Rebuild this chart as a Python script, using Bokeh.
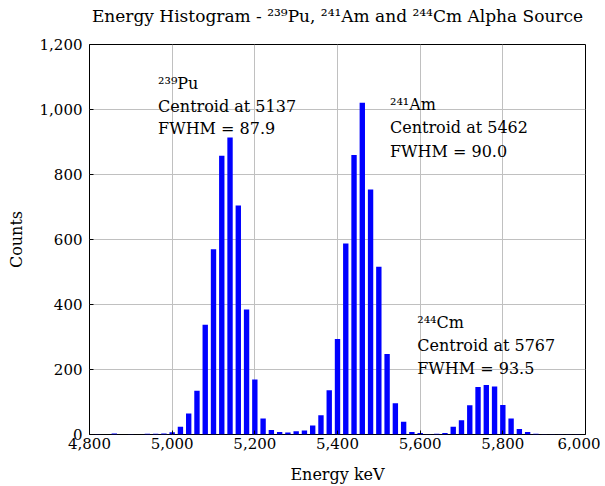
from bokeh.plotting import figure
from bokeh.models import NumeralTickFormatter, FixedTicker, Range1d, LinearAxis
from bokeh.core.properties import value
from bokeh.embed import file_html
from bokeh.resources import INLINE

energy = [4820, 4840, 4860, 4880, 4900, 4920, 4940, 4960, 4980,
          5000, 5020, 5040, 5060, 5080, 5100, 5120, 5140, 5160, 5180,
          5200, 5220, 5240, 5260, 5280, 5300, 5320, 5340, 5360, 5380,
          5400, 5420, 5440, 5460, 5480, 5500, 5520, 5540, 5560, 5580,
          5600, 5620, 5640, 5660, 5680, 5700, 5720, 5740, 5760, 5780,
          5800, 5820, 5840, 5860, 5880, 5900, 5920, 5940, 5960, 5980]
counts = [1, 0, 3, 0, 1, 0, 2, 2, 3,
          7, 24, 65, 135, 338, 570, 858, 914, 705, 385,
          169, 49, 14, 8, 6, 10, 12, 28, 59, 136,
          294, 588, 860, 1021, 754, 516, 248, 96, 39, 8,
          5, 1, 2, 5, 24, 44, 90, 146, 152, 148,
          91, 49, 17, 8, 2, 1, 1, 1, 1, 1]

x_ticks = [4800, 5000, 5200, 5400, 5600, 5800, 6000]
y_ticks = [0, 200, 400, 600, 800, 1000, 1200]

note_x = [4966, 4966, 4966, 5527, 5527, 5527, 5593, 5593, 5593]
note_y = [1081, 1010, 941, 1015, 944, 872, 346, 274, 204]
note_text = ["²³⁹Pu", "Centroid at 5137", "FWHM = 87.9",
             "²⁴¹Am", "Centroid at 5462", "FWHM = 90.0",
             "²⁴⁴Cm", "Centroid at 5767", "FWHM = 93.5"]

title_text = "Energy Histogram - ²³⁹Pu, ²⁴¹Am and ²⁴⁴Cm Alpha Source"

FONT = "DejaVu Serif"

p = figure(width=600, height=486, output_backend="svg", toolbar_location=None,
           x_range=Range1d(4800, 6000), y_range=Range1d(0, 1200),
           min_border_left=89, min_border_right=15, min_border_top=44,
           min_border_bottom=52)

bottom_axis = p.below[0]
left_axis = p.left[0]

for ax in (bottom_axis, left_axis):
    ax.axis_line_color = None
    ax.major_tick_in = 4
    ax.major_tick_out = 0
    ax.minor_tick_in = 0
    ax.minor_tick_out = 0
    ax.major_tick_line_color = "black"
    ax.major_label_text_font = FONT
    ax.major_label_text_font_size = "15px"
    ax.major_label_text_color = "black"
    ax.axis_label_text_font = FONT
    ax.axis_label_text_font_size = "16px"
    ax.axis_label_text_font_style = "normal"
    ax.axis_label_text_color = "black"
    ax.formatter = NumeralTickFormatter(format="0,0")

bottom_axis.ticker = FixedTicker(ticks=x_ticks)
left_axis.ticker = FixedTicker(ticks=y_ticks)
bottom_axis.axis_label = "Energy keV"
left_axis.axis_label = "Counts"
bottom_axis.major_label_standoff = 3
bottom_axis.axis_label_standoff = 13
left_axis.major_label_standoff = 7
left_axis.axis_label_standoff = 11

# title drawn as the label of an empty axis above the frame
top_axis = LinearAxis(ticker=FixedTicker(ticks=[]), axis_label=title_text)
top_axis.axis_line_color = None
top_axis.major_tick_in = 0
top_axis.major_tick_out = 0
top_axis.minor_tick_in = 0
top_axis.minor_tick_out = 0
top_axis.major_label_standoff = 0
top_axis.major_label_text_font_size = "0px"
top_axis.axis_label_standoff = 19
top_axis.axis_label_text_font = FONT
top_axis.axis_label_text_font_size = "17px"
top_axis.axis_label_text_font_style = "normal"
top_axis.axis_label_text_color = "black"
p.add_layout(top_axis, "above")

p.vbar(x=energy, top=counts, width=13, bottom=0, color="#0000ff", line_color=None)

p.text(x=note_x, y=note_y, text=note_text, text_font=value(FONT),
       text_font_size="16px", text_baseline="alphabetic", text_align="left",
       text_color="black")

p.outline_line_color = "black"
p.outline_line_width = 1

p.xgrid.grid_line_color = "#c0c0c0"
p.ygrid.grid_line_color = "#c0c0c0"
p.xgrid.grid_line_width = 1
p.ygrid.grid_line_width = 1
p.background_fill_color = "white"
p.border_fill_color = "white"

open("out.html", "w").write(file_html(p, INLINE))
